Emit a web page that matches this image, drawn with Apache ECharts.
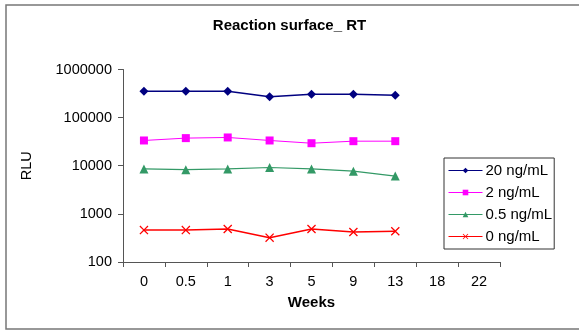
<!DOCTYPE html>
<html>
<head>
<meta charset="utf-8">
<script src="https://cdn.jsdelivr.net/npm/echarts@6/dist/echarts.min.js"></script>
<style>
  html, body { margin: 0; padding: 0; background: #fff; }
  #chart { width: 579px; height: 330px; }
</style>
</head>
<body>
<div id="chart"></div>
<script>
// weeks on the x axis
let weeks = ["0", "0.5", "1", "3", "5", "9", "13", "18", "22"];
let seriesNames = ["20 ng/mL", "2 ng/mL", "0.5 ng/mL", "0 ng/mL"];
// RLU values (log scale)
let rlu20 = [352000, 352000, 352000, 270000, 305000, 305000, 292000];
let rlu2 = [33500, 37500, 38700, 33500, 29400, 32400, 32400];
let rlu05 = [8600, 8300, 8600, 9200, 8600, 7700, 6100];
let rlu0 = [460, 460, 485, 320, 485, 420, 435];
let yTicks = [100, 1000, 10000, 100000, 1000000];

let crossPath = "path://M0,1L1,0L5,4L9,0L10,1L6,5L10,9L9,10L5,6L1,10L0,9L4,5Z";

var myChart = echarts.init(document.getElementById("chart"), null, { renderer: "canvas" });

function makeSeries(name, data, color, symbol, size, width) {
  return {
    name: name,
    type: "line",
    data: data,
    symbol: symbol,
    symbolSize: size,
    showAllSymbol: true,
    lineStyle: { color: color, width: width },
    itemStyle: { color: color },
  };
}

var option = {
  animation: false,
  backgroundColor: "#fff",
  title: {
    text: "Reaction surface_ RT",
    left: "center",
    top: 13,
    textStyle: { fontFamily: "Liberation Sans", fontSize: 15, fontWeight: "bold", color: "#000" },
  },
  graphic: [
    {
      type: "rect",
      shape: { x: 6, y: 5, width: 600, height: 324 },
      style: { fill: null, stroke: "#777", lineWidth: 1.5 },
      silent: true,
    },
  ],
  legend: {
    orient: "vertical",
    left: 444,
    top: 158,
    data: seriesNames,
    itemWidth: 34,
    itemHeight: 7,
    itemGap: 7,
    padding: [5, 2, 5, 4],
    borderColor: "#333",
    borderWidth: 1,
    backgroundColor: "#fff",
    lineStyle: { width: 1 },
    textStyle: { fontFamily: "Liberation Sans", fontSize: 15, color: "#000", padding: [0, 0, 0, -2] },
  },
  grid: { left: 123, right: 79, top: 69.5, bottom: 68 },
  xAxis: {
    type: "category",
    data: weeks,
    boundaryGap: true,
    name: "Weeks",
    nameLocation: "middle",
    nameGap: 33,
    nameTextStyle: { fontFamily: "Liberation Sans", fontSize: 15, fontWeight: "bold", color: "#000" },
    axisLine: { show: true, lineStyle: { color: "#555", width: 1 } },
    axisTick: { show: true, length: 5, lineStyle: { color: "#555" } },
    axisLabel: { margin: 12, fontFamily: "Liberation Sans", fontSize: 14.5, color: "#000" },
    splitLine: { show: false },
  },
  yAxis: {
    type: "log",
    logBase: 10,
    min: yTicks[0],
    max: yTicks[yTicks.length - 1],
    name: "RLU",
    nameLocation: "middle",
    nameGap: 89,
    nameRotate: 90,
    nameTextStyle: { fontFamily: "Liberation Sans", fontSize: 14.5, color: "#000" },
    axisLine: { show: true, lineStyle: { color: "#555", width: 1 } },
    axisTick: { show: true, length: 5, lineStyle: { color: "#555" } },
    axisLabel: {
      margin: 11,
      fontFamily: "Liberation Sans",
      fontSize: 14.5,
      color: "#000",
      formatter: function (v) { return String(Math.round(v)); },
    },
    splitLine: { show: false },
  },
  series: [
    makeSeries(seriesNames[0], rlu20, "#000080", "diamond", 9, 1.5),
    makeSeries(seriesNames[1], rlu2, "#FF00FF", "rect", 8, 1),
    makeSeries(seriesNames[2], rlu05, "#339966", "triangle", 9, 1.2),
    makeSeries(seriesNames[3], rlu0, "#FF0000", crossPath, 9, 1.5),
  ],
};

option && myChart.setOption(option);
</script>
</body>
</html>
